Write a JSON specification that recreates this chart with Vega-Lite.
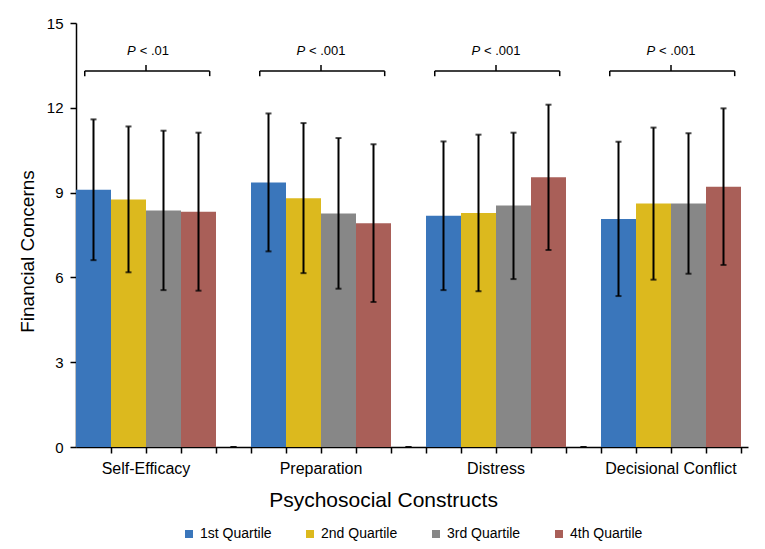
{
  "$schema": "https://vega.github.io/schema/vega-lite/v6.json",
  "width": 672,
  "height": 424,
  "autosize": {"type": "none"},
  "padding": {"left": 76, "top": 23, "right": 17, "bottom": 102},
  "background": "white",
  "config": {
    "font": "Liberation Sans",
    "view": {"stroke": null},
    "axis": {"domainColor": "black", "tickColor": "black", "labelColor": "black", "titleColor": "black", "domainWidth": 1.5, "tickWidth": 1.5, "grid": false, "titleFontWeight": "normal"}
  },
  "datasets": {
    "bars": [
      {"Bar": "Self-Efficacy|1st Quartile", "Construct": "Self-Efficacy", "Quartile": "1st Quartile", "mean": 9.10, "lo": 6.61, "hi": 11.59},
      {"Bar": "Self-Efficacy|2nd Quartile", "Construct": "Self-Efficacy", "Quartile": "2nd Quartile", "mean": 8.76, "lo": 6.18, "hi": 11.34},
      {"Bar": "Self-Efficacy|3rd Quartile", "Construct": "Self-Efficacy", "Quartile": "3rd Quartile", "mean": 8.37, "lo": 5.55, "hi": 11.19},
      {"Bar": "Self-Efficacy|4th Quartile", "Construct": "Self-Efficacy", "Quartile": "4th Quartile", "mean": 8.32, "lo": 5.53, "hi": 11.12},
      {"Bar": "gap1", "Construct": null, "Quartile": null, "mean": 0, "lo": 0, "hi": 0},
      {"Bar": "Preparation|1st Quartile", "Construct": "Preparation", "Quartile": "1st Quartile", "mean": 9.36, "lo": 6.92, "hi": 11.80},
      {"Bar": "Preparation|2nd Quartile", "Construct": "Preparation", "Quartile": "2nd Quartile", "mean": 8.80, "lo": 6.15, "hi": 11.46},
      {"Bar": "Preparation|3rd Quartile", "Construct": "Preparation", "Quartile": "3rd Quartile", "mean": 8.26, "lo": 5.60, "hi": 10.93},
      {"Bar": "Preparation|4th Quartile", "Construct": "Preparation", "Quartile": "4th Quartile", "mean": 7.92, "lo": 5.13, "hi": 10.71},
      {"Bar": "gap2", "Construct": null, "Quartile": null, "mean": 0, "lo": 0, "hi": 0},
      {"Bar": "Distress|1st Quartile", "Construct": "Distress", "Quartile": "1st Quartile", "mean": 8.18, "lo": 5.55, "hi": 10.81},
      {"Bar": "Distress|2nd Quartile", "Construct": "Distress", "Quartile": "2nd Quartile", "mean": 8.28, "lo": 5.51, "hi": 11.05},
      {"Bar": "Distress|3rd Quartile", "Construct": "Distress", "Quartile": "3rd Quartile", "mean": 8.54, "lo": 5.94, "hi": 11.12},
      {"Bar": "Distress|4th Quartile", "Construct": "Distress", "Quartile": "4th Quartile", "mean": 9.54, "lo": 6.97, "hi": 12.11},
      {"Bar": "gap3", "Construct": null, "Quartile": null, "mean": 0, "lo": 0, "hi": 0},
      {"Bar": "Decisional Conflict|1st Quartile", "Construct": "Decisional Conflict", "Quartile": "1st Quartile", "mean": 8.07, "lo": 5.34, "hi": 10.80},
      {"Bar": "Decisional Conflict|2nd Quartile", "Construct": "Decisional Conflict", "Quartile": "2nd Quartile", "mean": 8.61, "lo": 5.92, "hi": 11.30},
      {"Bar": "Decisional Conflict|3rd Quartile", "Construct": "Decisional Conflict", "Quartile": "3rd Quartile", "mean": 8.61, "lo": 6.13, "hi": 11.10},
      {"Bar": "Decisional Conflict|4th Quartile", "Construct": "Decisional Conflict", "Quartile": "4th Quartile", "mean": 9.21, "lo": 6.44, "hi": 11.98}
    ],
    "tests": [
      {"Construct": "Self-Efficacy", "from": "Self-Efficacy|1st Quartile", "center": "Self-Efficacy|2nd Quartile", "to": "Self-Efficacy|4th Quartile", "sig": "< .01"},
      {"Construct": "Preparation", "from": "Preparation|1st Quartile", "center": "Preparation|2nd Quartile", "to": "Preparation|4th Quartile", "sig": "< .001"},
      {"Construct": "Distress", "from": "Distress|1st Quartile", "center": "Distress|2nd Quartile", "to": "Distress|4th Quartile", "sig": "< .001"},
      {"Construct": "Decisional Conflict", "from": "Decisional Conflict|1st Quartile", "center": "Decisional Conflict|2nd Quartile", "to": "Decisional Conflict|4th Quartile", "sig": "< .001"}
    ]
  },
  "layer": [
    {
      "data": {"name": "bars"},
      "transform": [{"filter": "datum.Quartile != null"}],
      "mark": {"type": "bar"},
      "encoding": {
        "x": {
          "field": "Bar", "type": "nominal", "title": "Psychosocial Constructs",
          "scale": {
            "domain": ["Self-Efficacy|1st Quartile", "Self-Efficacy|2nd Quartile", "Self-Efficacy|3rd Quartile", "Self-Efficacy|4th Quartile", "gap1",
                       "Preparation|1st Quartile", "Preparation|2nd Quartile", "Preparation|3rd Quartile", "Preparation|4th Quartile", "gap2",
                       "Distress|1st Quartile", "Distress|2nd Quartile", "Distress|3rd Quartile", "Distress|4th Quartile", "gap3",
                       "Decisional Conflict|1st Quartile", "Decisional Conflict|2nd Quartile", "Decisional Conflict|3rd Quartile", "Decisional Conflict|4th Quartile"],
            "paddingInner": 0, "paddingOuter": 0.1, "align": 0
          },
          "axis": {
            "bandPosition": 1,
            "labelAngle": 0,
            "labelOverlap": false,
            "labelExpr": "indexof(datum.value, '|2nd') >= 0 ? split(datum.value, '|')[0] : ''",
            "labelOffset": 17.5,
            "labelFontSize": 16,
            "labelPadding": 7,
            "tickSize": 6,
            "titleFontSize": 21,
            "titlePadding": 13,
            "titleX": 307,
            "titleAlign": "center"
          }
        },
        "y": {
          "field": "mean", "type": "quantitative", "title": "Financial Concerns",
          "scale": {"domain": [0, 15], "nice": false},
          "axis": {
            "values": [0, 3, 6, 9, 12, 15],
            "labelFontSize": 15,
            "labelPadding": 7,
            "tickSize": 6,
            "titleFontSize": 19,
            "titleAngle": -90,
            "titleX": -49,
            "titleY": 228,
            "titleAlign": "center",
            "titleBaseline": "middle"
          }
        },
        "color": {
          "field": "Quartile", "type": "nominal",
          "scale": {"domain": ["1st Quartile", "2nd Quartile", "3rd Quartile", "4th Quartile"], "range": ["#3a76bb", "#dcb91e", "#878787", "#a95f58"]},
          "legend": {
            "orient": "none", "legendX": 106, "legendY": 504, "direction": "horizontal", "title": null,
            "symbolType": "square", "symbolSize": 64, "symbolStrokeWidth": 0, "symbolOpacity": 1,
            "labelFontSize": 14, "labelColor": "black", "labelOffset": 4, "columnPadding": 31
          }
        }
      }
    },
    {
      "data": {"name": "bars"},
      "mark": {"type": "rule", "color": "black", "strokeWidth": 2},
      "encoding": {
        "x": {"field": "Bar", "type": "nominal", "title": "Psychosocial Constructs"},
        "y": {"field": "lo", "type": "quantitative", "title": "Financial Concerns"},
        "y2": {"field": "hi"}
      }
    },
    {
      "data": {"name": "bars"},
      "mark": {"type": "tick", "color": "black", "size": 6, "thickness": 2},
      "encoding": {
        "x": {"field": "Bar", "type": "nominal", "title": "Psychosocial Constructs"},
        "y": {"field": "lo", "type": "quantitative", "title": "Financial Concerns"}
      }
    },
    {
      "data": {"name": "bars"},
      "mark": {"type": "tick", "color": "black", "size": 6, "thickness": 2},
      "encoding": {
        "x": {"field": "Bar", "type": "nominal", "title": "Psychosocial Constructs"},
        "y": {"field": "hi", "type": "quantitative", "title": "Financial Concerns"}
      }
    },
    {
      "data": {"name": "tests"},
      "mark": {"type": "rule", "color": "black", "strokeWidth": 1.5},
      "encoding": {
        "x": {"field": "from", "type": "nominal", "bandPosition": 0.25, "title": "Psychosocial Constructs"},
        "x2": {"field": "to", "bandPosition": 0.82},
        "y": {"datum": 13.3, "type": "quantitative", "title": "Financial Concerns"}
      }
    },
    {
      "data": {"name": "tests"},
      "mark": {"type": "rule", "color": "black", "strokeWidth": 1.5},
      "encoding": {
        "x": {"field": "from", "type": "nominal", "bandPosition": 0.25, "title": "Psychosocial Constructs"},
        "y": {"datum": 13.12, "type": "quantitative", "title": "Financial Concerns"},
        "y2": {"datum": 13.3}
      }
    },
    {
      "data": {"name": "tests"},
      "mark": {"type": "rule", "color": "black", "strokeWidth": 1.5},
      "encoding": {
        "x": {"field": "to", "type": "nominal", "bandPosition": 0.82, "title": "Psychosocial Constructs"},
        "y": {"datum": 13.12, "type": "quantitative", "title": "Financial Concerns"},
        "y2": {"datum": 13.3}
      }
    },
    {
      "data": {"name": "tests"},
      "mark": {"type": "rule", "color": "black", "strokeWidth": 1.5},
      "encoding": {
        "x": {"field": "center", "type": "nominal", "bandPosition": 1, "title": "Psychosocial Constructs"},
        "y": {"datum": 13.3, "type": "quantitative", "title": "Financial Concerns"},
        "y2": {"datum": 13.51}
      }
    },
    {
      "data": {"name": "tests"},
      "transform": [{"filter": "datum.sig == '< .01'"}],
      "mark": {"type": "text", "text": "P", "fontStyle": "italic", "fontSize": 13, "align": "left", "baseline": "alphabetic", "dx": -19, "color": "black"},
      "encoding": {
        "x": {"field": "center", "type": "nominal", "bandPosition": 1, "title": "Psychosocial Constructs"},
        "y": {"datum": 13.87, "type": "quantitative", "title": "Financial Concerns"}
      }
    },
    {
      "data": {"name": "tests"},
      "transform": [{"filter": "datum.sig == '< .01'"}],
      "mark": {"type": "text", "fontSize": 13, "align": "right", "baseline": "alphabetic", "dx": 23, "color": "black"},
      "encoding": {
        "x": {"field": "center", "type": "nominal", "bandPosition": 1, "title": "Psychosocial Constructs"},
        "y": {"datum": 13.87, "type": "quantitative", "title": "Financial Concerns"},
        "text": {"field": "sig"}
      }
    },
    {
      "data": {"name": "tests"},
      "transform": [{"filter": "datum.sig == '< .001'"}],
      "mark": {"type": "text", "text": "P", "fontStyle": "italic", "fontSize": 13, "align": "left", "baseline": "alphabetic", "dx": -24.5, "color": "black"},
      "encoding": {
        "x": {"field": "center", "type": "nominal", "bandPosition": 1, "title": "Psychosocial Constructs"},
        "y": {"datum": 13.87, "type": "quantitative", "title": "Financial Concerns"}
      }
    },
    {
      "data": {"name": "tests"},
      "transform": [{"filter": "datum.sig == '< .001'"}],
      "mark": {"type": "text", "fontSize": 13, "align": "right", "baseline": "alphabetic", "dx": 24.5, "color": "black"},
      "encoding": {
        "x": {"field": "center", "type": "nominal", "bandPosition": 1, "title": "Psychosocial Constructs"},
        "y": {"datum": 13.87, "type": "quantitative", "title": "Financial Concerns"},
        "text": {"field": "sig"}
      }
    }
  ]
}
